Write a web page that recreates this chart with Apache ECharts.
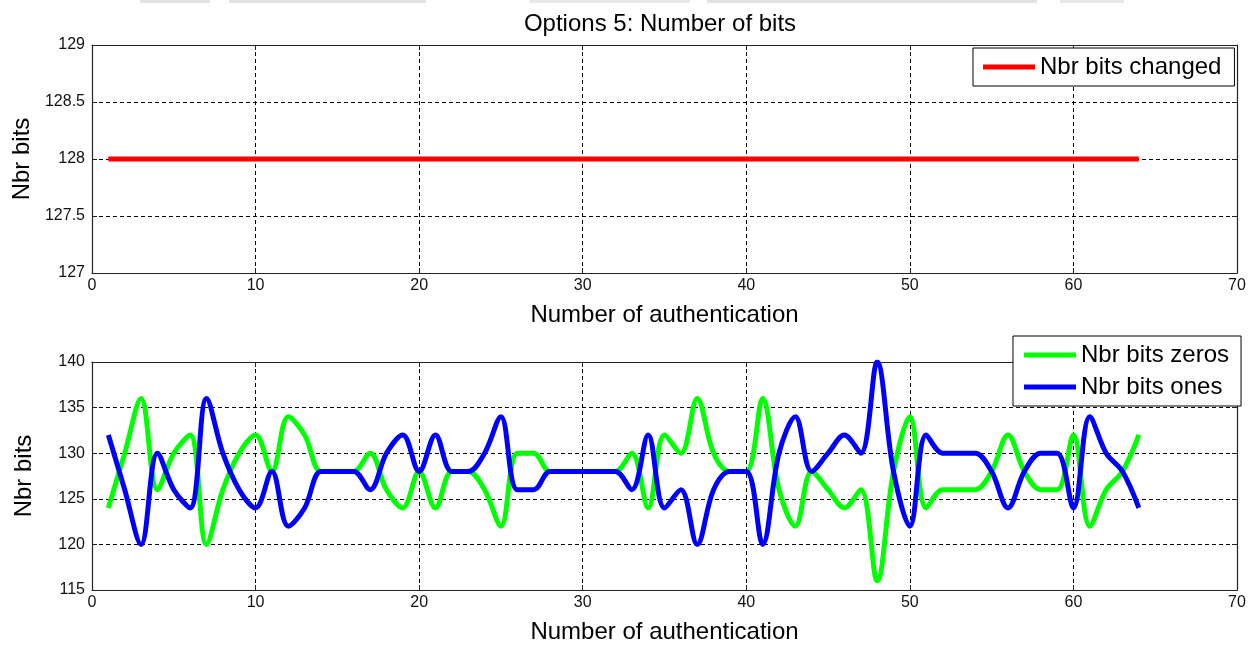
<!DOCTYPE html>
<html>
<head>
<meta charset="utf-8">
<title>Options 5: Number of bits</title>
<script src="https://cdn.jsdelivr.net/npm/echarts@6/dist/echarts.min.js"></script>
<style>
  html, body { margin: 0; padding: 0; background: #fff; }
  #chart { width: 1253px; height: 645px; }
</style>
</head>
<body>
<div id="chart"></div>
<script>
// Authentication index (x values shared by both panels)
const authIndex = [
  1, 2, 3, 4, 5, 6, 7, 8, 9, 10,
  11, 12, 13, 14, 15, 16, 17, 18, 19, 20,
  21, 22, 23, 24, 25, 26, 27, 28, 29, 30,
  31, 32, 33, 34, 35, 36, 37, 38, 39, 40,
  41, 42, 43, 44, 45, 46, 47, 48, 49, 50,
  51, 52, 53, 54, 55, 56, 57, 58, 59, 60,
  61, 62, 63, 64
];

// Number of bits changed per authentication
const bitsChanged = [
  128, 128, 128, 128, 128, 128, 128, 128, 128, 128,
  128, 128, 128, 128, 128, 128, 128, 128, 128, 128,
  128, 128, 128, 128, 128, 128, 128, 128, 128, 128,
  128, 128, 128, 128, 128, 128, 128, 128, 128, 128,
  128, 128, 128, 128, 128, 128, 128, 128, 128, 128,
  128, 128, 128, 128, 128, 128, 128, 128, 128, 128,
  128, 128, 128, 128
];

// Number of zero bits per authentication
const bitsZeros = [
  124, 130, 136, 126, 130, 132, 120, 126, 130, 132,
  128, 134, 132, 128, 128, 128, 130, 126, 124, 128,
  124, 128, 128, 126, 122, 130, 130, 128, 128, 128,
  128, 128, 130, 124, 132, 130, 136, 130, 128, 128,
  136, 126, 122, 128, 126, 124, 126, 116, 128, 134,
  124, 126, 126, 126, 128, 132, 128, 126, 126, 132,
  122, 126, 128, 132
];

// Number of one bits per authentication
const bitsOnes = [
  132, 126, 120, 130, 126, 124, 136, 130, 126, 124,
  128, 122, 124, 128, 128, 128, 126, 130, 132, 128,
  132, 128, 128, 130, 134, 126, 126, 128, 128, 128,
  128, 128, 126, 132, 124, 126, 120, 126, 128, 128,
  120, 130, 134, 128, 130, 132, 130, 140, 128, 122,
  132, 130, 130, 130, 128, 124, 128, 130, 130, 124,
  134, 130, 128, 124
];

// Axis ranges and tick steps
const xRange = { min: 0, max: 70, step: 10 };
const yRangeTop = { min: 127, max: 129, step: 0.5 };
const yRangeBottom = { min: 115, max: 140, step: 5 };

const FONT = "'Liberation Sans', Arial, sans-serif";
const pairs = (xs, ys) => xs.map((x, i) => [x, ys[i]]);

const gridLine = { show: true, lineStyle: { color: '#000', width: 1, type: [4, 3] } };
const axisLineStyle = { show: true, onZero: false, lineStyle: { color: '#222', width: 1.2 } };
const tickInside = { show: true, inside: true, length: 5, lineStyle: { color: '#222' } };
const tickLabel = { fontSize: 16, color: '#111', fontFamily: FONT };
const axisName = { fontSize: 24, color: '#000', fontFamily: FONT };

function mainX(gridIndex) {
  return {
    gridIndex, type: 'value', position: 'bottom',
    min: xRange.min, max: xRange.max, interval: xRange.step,
    name: 'Number of authentication', nameLocation: 'middle', nameGap: 30,
    nameTextStyle: axisName,
    axisLine: axisLineStyle, axisTick: tickInside,
    axisLabel: Object.assign({ margin: 5 }, tickLabel),
    splitLine: gridLine
  };
}
function mirrorX(gridIndex) {
  return {
    gridIndex, type: 'value', position: 'top',
    min: xRange.min, max: xRange.max, interval: xRange.step,
    axisLine: axisLineStyle, axisTick: tickInside,
    axisLabel: { show: false }, splitLine: { show: false }
  };
}
function mainY(gridIndex, r) {
  return {
    gridIndex, type: 'value', position: 'left',
    min: r.min, max: r.max, interval: r.step,
    name: 'Nbr bits', nameLocation: 'middle', nameGap: 56, nameRotate: 90,
    nameTextStyle: axisName,
    axisLine: axisLineStyle, axisTick: tickInside,
    axisLabel: Object.assign({ margin: 7 }, tickLabel),
    splitLine: gridLine
  };
}
function mirrorY(gridIndex, r) {
  return {
    gridIndex, type: 'value', position: 'right',
    min: r.min, max: r.max, interval: r.step,
    axisLine: axisLineStyle, axisTick: tickInside,
    axisLabel: { show: false }, splitLine: { show: false }
  };
}

const legendText = { fontSize: 24, color: '#000', fontFamily: FONT, lineHeight: 26 };

const option = {
  animation: false,
  backgroundColor: '#fff',
  title: {
    text: 'Options 5: Number of bits',
    left: 655, top: 7, textAlign: 'center',
    textStyle: { fontSize: 24, fontWeight: 'normal', color: '#000', fontFamily: FONT }
  },
  grid: [
    { left: 92, right: 16, top: 45, height: 228 },
    { left: 92, right: 16, top: 362, height: 228 }
  ],
  xAxis: [mainX(0), mainX(1), mirrorX(0), mirrorX(1)],
  yAxis: [mainY(0, yRangeTop), mainY(1, yRangeBottom), mirrorY(0, yRangeTop), mirrorY(1, yRangeBottom)],
  legend: [
    {
      data: ['Nbr bits changed'],
      left: 973, top: 48,
      padding: [6, 13, 6, 10],
      itemWidth: 52, itemHeight: 5, icon: 'rect',
      borderColor: '#000', borderWidth: 1, backgroundColor: '#fff',
      textStyle: legendText
    },
    {
      data: ['Nbr bits zeros', 'Nbr bits ones'],
      orient: 'vertical',
      left: 1013, top: 336,
      padding: [6, 12, 6, 11],
      itemGap: 6,
      itemWidth: 52, itemHeight: 5, icon: 'rect',
      borderColor: '#000', borderWidth: 1, backgroundColor: '#fff',
      textStyle: legendText
    }
  ],
  graphic: [
    { type: 'rect', shape: { x: 140, y: 0, width: 70, height: 3 }, style: { fill: '#e2e2e2' } },
    { type: 'rect', shape: { x: 229, y: 0, width: 197, height: 3 }, style: { fill: '#e2e2e2' } },
    { type: 'rect', shape: { x: 530, y: 0, width: 160, height: 3 }, style: { fill: '#e8e8e8' } },
    { type: 'rect', shape: { x: 707, y: 0, width: 330, height: 3 }, style: { fill: '#e2e2e2' } },
    { type: 'rect', shape: { x: 1060, y: 0, width: 64, height: 3 }, style: { fill: '#e8e8e8' } }
  ],
  series: [
    {
      name: 'Nbr bits changed', type: 'line',
      xAxisIndex: 0, yAxisIndex: 0,
      data: pairs(authIndex, bitsChanged),
      symbol: 'none',
      lineStyle: { color: '#ff0000', width: 5 },
      itemStyle: { color: '#ff0000' }
    },
    {
      name: 'Nbr bits zeros', type: 'line',
      xAxisIndex: 1, yAxisIndex: 1,
      data: pairs(authIndex, bitsZeros),
      symbol: 'none', smooth: 0.35,
      lineStyle: { color: '#00ff00', width: 5 },
      itemStyle: { color: '#00ff00' }
    },
    {
      name: 'Nbr bits ones', type: 'line',
      xAxisIndex: 1, yAxisIndex: 1,
      data: pairs(authIndex, bitsOnes),
      symbol: 'none', smooth: 0.35,
      lineStyle: { color: '#0000ff', width: 5 },
      itemStyle: { color: '#0000ff' }
    }
  ]
};

const chart = echarts.init(document.getElementById('chart'), null, { renderer: 'canvas' });
chart.setOption(option);
</script>
</body>
</html>
